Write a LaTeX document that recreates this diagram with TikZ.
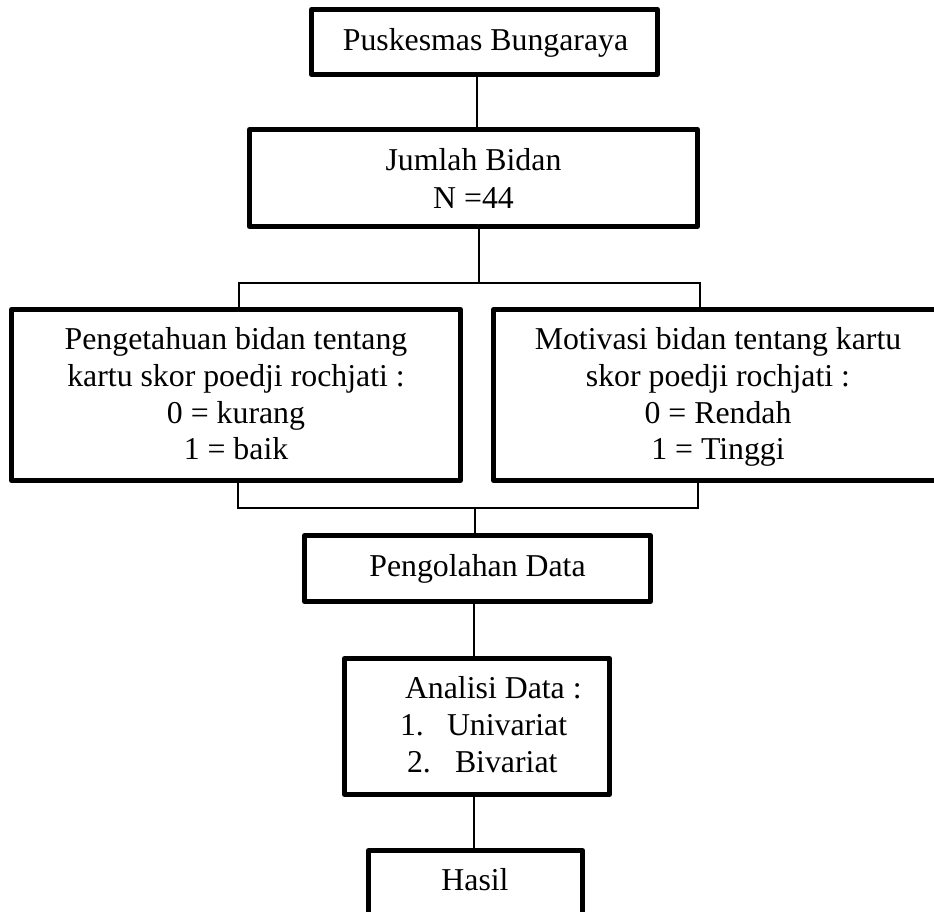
\documentclass[tikz,border=0pt]{standalone}
\usepackage{fontspec}
\setmainfont{Liberation Serif}
\begin{document}
\begin{tikzpicture}[x=1pt,y=-1pt,
  box/.style={draw, line width=5pt, line join=round, rectangle, inner sep=0pt, outer sep=0pt},
  conn/.style={line width=1.5pt},
  txt/.style={inner sep=0pt, outer sep=0pt, font=\fontsize{31.8}{36.7}\selectfont}]
\useasboundingbox (0,0) rectangle (934,912);
\clip (0,0) rectangle (934,912);
\fill[white] (0,0) rectangle (934,912);

% boxes
\node[box, minimum width=346pt, minimum height=65pt]  (b1) at (484.5,42) {};
\node[box, minimum width=448pt, minimum height=97pt]  (b2) at (473.5,178) {};
\node[box, minimum width=449pt, minimum height=171pt] (b3) at (236,395) {};
\node[box, minimum width=449pt, minimum height=171pt] (b4) at (718,395) {};
\node[box, minimum width=346pt, minimum height=66pt]  (b5) at (477.5,568.5) {};
\node[box, minimum width=265pt, minimum height=136pt] (b6) at (477,726.5) {};
\node[box, minimum width=214pt, minimum height=65pt]  (b7) at (475.5,883) {};

% connector guide coordinates
\coordinate (xa) at (477,0);
\coordinate (jt) at (479,283);
\coordinate (jtl) at (239,283);
\coordinate (jtr) at (700,283);
\coordinate (jbl) at (238,508);
\coordinate (jbr) at (698,508);
\coordinate (jb) at (475,508);
\coordinate (xb) at (474,0);

% connectors
\draw[conn] (b1.south -| xa) -- (b2.north -| xa);
\draw[conn] (b2.south -| jt) -- (jt);
\draw[conn] (b3.north -| jtl) |- (jtr) -- (b4.north -| jtr);
\draw[conn] (b3.south -| jbl) |- (jbr) -- (b4.south -| jbr);
\draw[conn] (jb) -- (b5.north -| jb);
\draw[conn] (b5.south -| xb) -- (b6.north -| xb);
\draw[conn] (b6.south -| xb) -- (b7.north -| xb);

% texts
\node[txt, anchor=base] (t1) at (485.5,51) {Puskesmas Bungaraya};
\node[txt, anchor=base] (t2a) at (473.5,171) {Jumlah Bidan};
\node[txt, anchor=base] (t2b) at (473.5,208) {N =44};
\node[txt, anchor=base] (t3a) at (236,349) {Pengetahuan bidan tentang};
\node[txt, anchor=base] (t3b) at (236,386) {kartu skor poedji rochjati :};
\node[txt, anchor=base] (t3c) at (236,423) {0 = kurang};
\node[txt, anchor=base] (t3d) at (236,459) {1 = baik};
\node[txt, anchor=base] (t4a) at (718,349) {Motivasi bidan tentang kartu};
\node[txt, anchor=base] (t4b) at (718,386) {skor poedji rochjati :};
\node[txt, anchor=base] (t4c) at (718,423) {0 = Rendah};
\node[txt, anchor=base] (t4d) at (718,459) {1 = Tinggi};
\node[txt, anchor=base] (t5) at (477.5,576) {Pengolahan Data};
\node[txt, anchor=base west] (t6a) at (405,698) {Analisi Data :};
\node[txt, anchor=base west] (t6b) at (400,735) {1.};
\node[txt, anchor=base west] (t6c) at (447,735) {Univariat};
\node[txt, anchor=base west] (t6d) at (407,772) {2.};
\node[txt, anchor=base west] (t6e) at (455,772) {Bivariat};
\node[txt, anchor=base] (t7) at (475,890) {Hasil};
\end{tikzpicture}
\end{document}
